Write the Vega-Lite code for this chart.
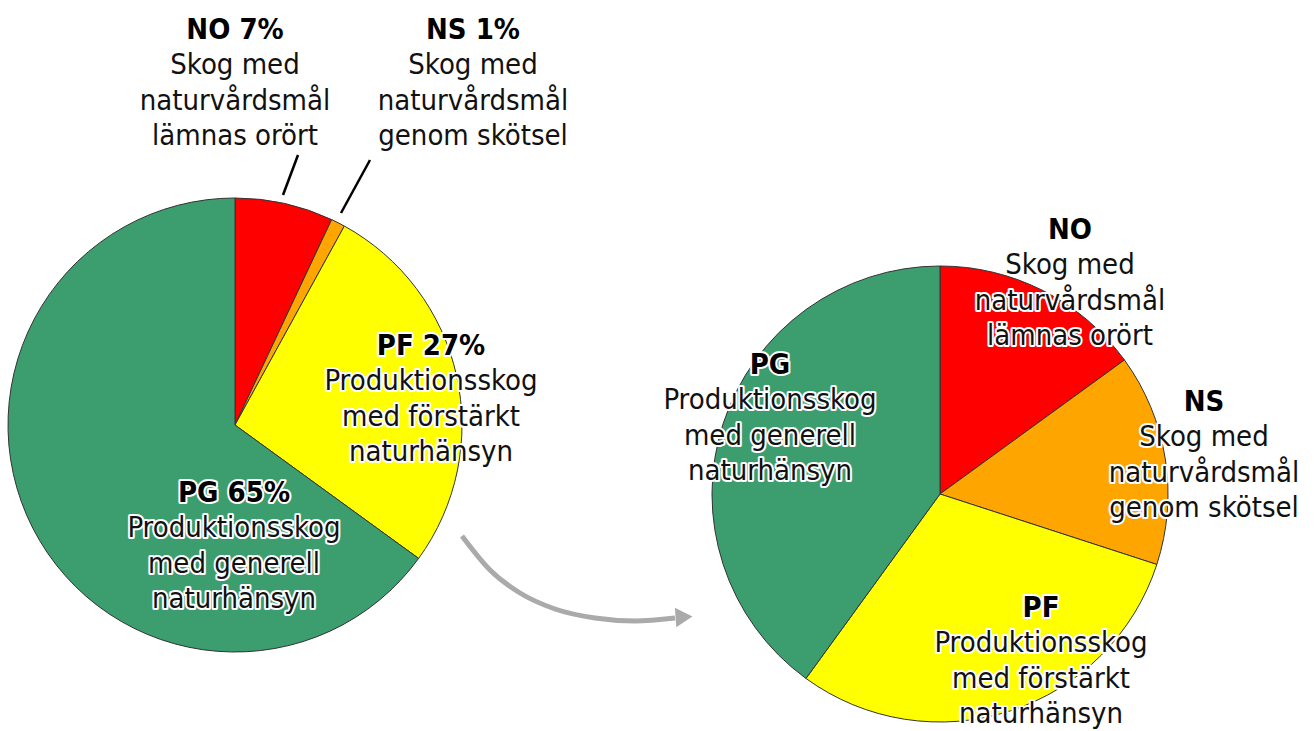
{
  "$schema": "https://vega.github.io/schema/vega-lite/v6.json",
  "width": 1314,
  "height": 731,
  "autosize": {"type": "fit", "contains": "padding"},
  "padding": 0,
  "background": "white",
  "config": {"view": {"stroke": null}},
  "datasets": {
    "left": [
      {"code": "NO", "share": 7},
      {"code": "NS", "share": 1},
      {"code": "PF", "share": 27},
      {"code": "PG", "share": 65}
    ],
    "right": [
      {"code": "NO", "share": 15},
      {"code": "NS", "share": 15},
      {"code": "PF", "share": 30},
      {"code": "PG", "share": 40}
    ],
    "labels": [
      {"pie": "left", "code": "NO", "header": "NO 7%", "body": "Skog med\nnaturvårdsmål\nlämnas orört", "lx": 235, "ly": 39},
      {"pie": "left", "code": "NS", "header": "NS 1%", "body": "Skog med\nnaturvårdsmål\ngenom skötsel", "lx": 473, "ly": 39},
      {"pie": "left", "code": "PF", "header": "PF 27%", "body": "Produktionsskog\nmed förstärkt\nnaturhänsyn", "lx": 431, "ly": 355},
      {"pie": "left", "code": "PG", "header": "PG 65%", "body": "Produktionsskog\nmed generell\nnaturhänsyn", "lx": 234, "ly": 502},
      {"pie": "right", "code": "NO", "header": "NO", "body": "Skog med\nnaturvårdsmål\nlämnas orört", "lx": 1070, "ly": 239},
      {"pie": "right", "code": "NS", "header": "NS", "body": "Skog med\nnaturvårdsmål\ngenom skötsel", "lx": 1204, "ly": 411},
      {"pie": "right", "code": "PF", "header": "PF", "body": "Produktionsskog\nmed förstärkt\nnaturhänsyn", "lx": 1041, "ly": 617},
      {"pie": "right", "code": "PG", "header": "PG", "body": "Produktionsskog\nmed generell\nnaturhänsyn", "lx": 770, "ly": 374}
    ],
    "leaders": [
      {"x": 298, "y": 155, "x2": 283, "y2": 195},
      {"x": 370, "y": 160, "x2": 341, "y2": 213}
    ],
    "arrow": [
      {"ax": 462, "ay": 536},
      {"ax": 490, "ay": 570},
      {"ax": 520, "ay": 593},
      {"ax": 555, "ay": 609},
      {"ax": 595, "ay": 618},
      {"ax": 635, "ay": 621},
      {"ax": 675, "ay": 618}
    ],
    "arrowhead": [
      {"ax": 684, "ay": 617}
    ]
  },
  "layer": [
    {
      "data": {"name": "left"},
      "mark": {"type": "arc", "outerRadius": 227, "stroke": "#333333", "strokeWidth": 1},
      "encoding": {
        "theta": {"field": "share", "type": "quantitative", "stack": true},
        "order": {"field": "code", "type": "nominal"},
        "color": {"field": "code", "type": "nominal", "legend": null,
          "scale": {"domain": ["NO", "NS", "PF", "PG"], "range": ["#ff0000", "#ffa500", "#ffff00", "#3c9e6f"]}},
        "x": {"datum": 235, "type": "quantitative", "axis": null, "scale": {"domain": [0, 1314], "nice": false, "zero": false}},
        "y": {"datum": 425, "type": "quantitative", "axis": null, "scale": {"domain": [0, 731], "reverse": true, "nice": false, "zero": false}}
      }
    },
    {
      "data": {"name": "right"},
      "mark": {"type": "arc", "outerRadius": 228, "stroke": "#333333", "strokeWidth": 1},
      "encoding": {
        "theta": {"field": "share", "type": "quantitative", "stack": true},
        "order": {"field": "code", "type": "nominal"},
        "color": {"field": "code", "type": "nominal", "legend": null},
        "x": {"datum": 940, "type": "quantitative"},
        "y": {"datum": 494, "type": "quantitative"}
      }
    },
    {
      "data": {"name": "leaders"},
      "mark": {"type": "rule", "color": "#000000", "strokeWidth": 2.5},
      "encoding": {
        "x": {"field": "x", "type": "quantitative"},
        "y": {"field": "y", "type": "quantitative"},
        "x2": {"field": "x2"},
        "y2": {"field": "y2"}
      }
    },
    {
      "data": {"name": "arrow"},
      "mark": {"type": "line", "color": "#aaaaaa", "strokeWidth": 5, "interpolate": "monotone"},
      "encoding": {
        "x": {"field": "ax", "type": "quantitative"},
        "y": {"field": "ay", "type": "quantitative"},
        "order": {"field": "ax", "type": "quantitative"}
      }
    },
    {
      "data": {"name": "arrowhead"},
      "mark": {"type": "point", "shape": "triangle-right", "filled": true, "color": "#aaaaaa", "size": 380, "opacity": 1, "angle": -4},
      "encoding": {
        "x": {"field": "ax", "type": "quantitative"},
        "y": {"field": "ay", "type": "quantitative"}
      }
    },
    {
      "data": {"name": "labels"},
      "mark": {"type": "text", "font": "DejaVu Sans Condensed, Liberation Sans Narrow, DejaVu Sans", "fontSize": 29, "fontWeight": "bold", "align": "center", "baseline": "alphabetic", "fill": "white", "stroke": "white", "strokeWidth": 4, "strokeJoin": "round"},
      "encoding": {
        "x": {"field": "lx", "type": "quantitative"},
        "y": {"field": "ly", "type": "quantitative"},
        "text": {"field": "header"}
      }
    },
    {
      "data": {"name": "labels"},
      "mark": {"type": "text", "font": "DejaVu Sans Condensed, Liberation Sans Narrow, DejaVu Sans", "fontSize": 29, "fontWeight": "bold", "align": "center", "baseline": "alphabetic", "fill": "#000000"},
      "encoding": {
        "x": {"field": "lx", "type": "quantitative"},
        "y": {"field": "ly", "type": "quantitative"},
        "text": {"field": "header"}
      }
    },
    {
      "data": {"name": "labels"},
      "mark": {"type": "text", "font": "DejaVu Sans Condensed, Liberation Sans Narrow, DejaVu Sans", "fontSize": 29, "align": "center", "baseline": "top", "dy": 12, "lineBreak": "\n", "lineHeight": 35.5, "fill": "white", "stroke": "white", "strokeWidth": 4, "strokeJoin": "round"},
      "encoding": {
        "x": {"field": "lx", "type": "quantitative"},
        "y": {"field": "ly", "type": "quantitative"},
        "text": {"field": "body"}
      }
    },
    {
      "data": {"name": "labels"},
      "mark": {"type": "text", "font": "DejaVu Sans Condensed, Liberation Sans Narrow, DejaVu Sans", "fontSize": 29, "align": "center", "baseline": "top", "dy": 12, "lineBreak": "\n", "lineHeight": 35.5, "fill": "#111111"},
      "encoding": {
        "x": {"field": "lx", "type": "quantitative"},
        "y": {"field": "ly", "type": "quantitative"},
        "text": {"field": "body"}
      }
    }
  ]
}
